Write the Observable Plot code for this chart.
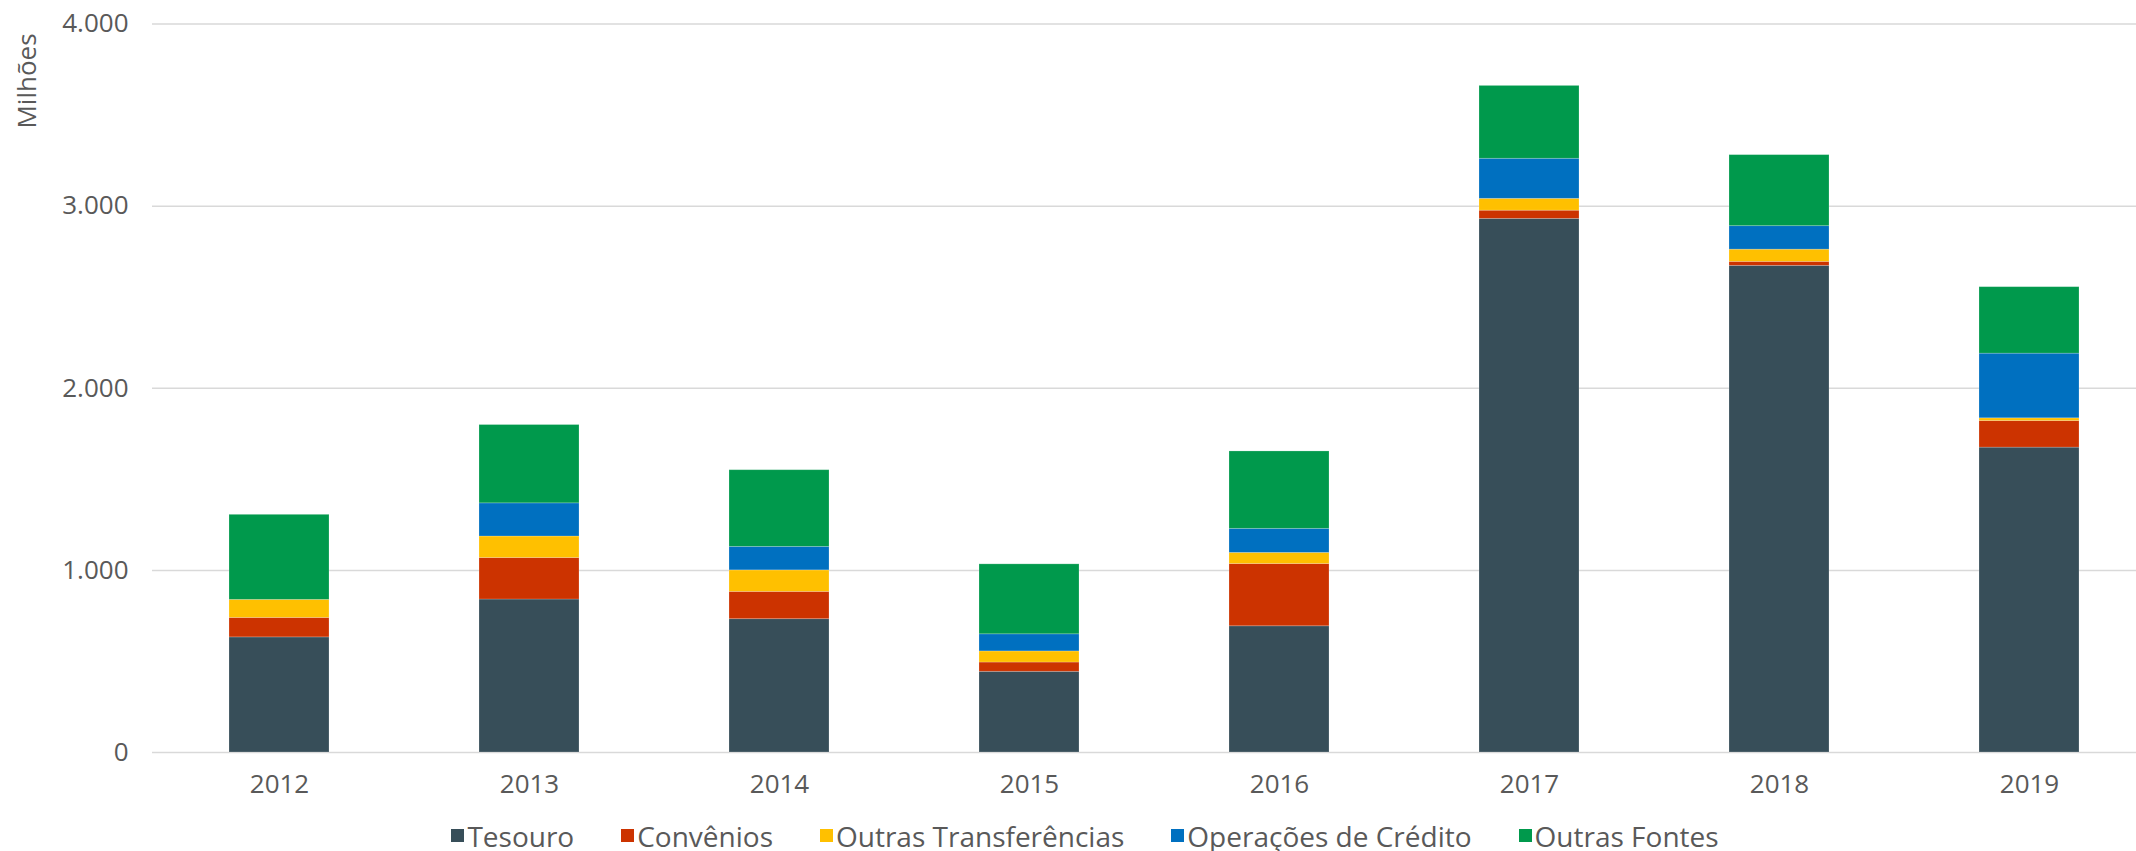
<!DOCTYPE html>
<html>
<head>
<meta charset="utf-8">
<script src="https://cdn.jsdelivr.net/npm/d3@7"></script>
<script src="https://cdn.jsdelivr.net/npm/@observablehq/plot@0.6"></script>
<style>
  html, body { margin: 0; padding: 0; background: #ffffff; }
  body { width: 2136px; height: 851px; position: relative; overflow: hidden; font-family: "Open Sans", "Lato", sans-serif; color: #595959; }
  #chart svg { display: block; }
  #ylabel { position: absolute; left: 26px; top: 81px; transform: translate(-50%, -50%) rotate(-90deg); font-size: 26px; color: #595959; white-space: nowrap; }
  #legend { position: absolute; left: 0; top: 800px; width: 2136px; height: 51px; padding-top: 20px; padding-left: 34px; box-sizing: border-box; display: flex; justify-content: center; align-items: center; gap: 47px; font-size: 28px; color: #595959; }
  #legend .item { display: flex; align-items: center; gap: 3px; white-space: nowrap; }
  #legend .sw { width: 13px; height: 13px; display: inline-block; }
</style>
</head>
<body>
<div id="chart"></div>
<div id="ylabel">Milhões</div>
<div id="legend"></div>
<script>
const years = ["2012", "2013", "2014", "2015", "2016", "2017", "2018", "2019"];
const seriesNames = ["Tesouro", "Convênios", "Outras Transferências", "Operações de Crédito", "Outras Fontes"];
const seriesColors = ["#374E59", "#CC3300", "#FFC000", "#0070C0", "#00994C"];

const tesouro = [632, 840, 732, 443, 693, 2930, 2672, 1674];
const convenios = [107, 228, 150, 51, 342, 45, 22, 146];
const outrasTransferencias = [99, 118, 118, 61, 61, 65, 67, 15];
const operacoesCredito = [0, 182, 129, 94, 132, 220, 129, 355];
const outrasFontes = [467, 430, 421, 384, 425, 400, 390, 365];

const yTicks = [0, 1000, 2000, 3000, 4000];
const yLabel = "Milhões";

const seriesValues = [tesouro, convenios, outrasTransferencias, operacoesCredito, outrasFontes];
const data = [];
seriesNames.forEach((name, si) => {
  years.forEach((yr, yi) => {
    data.push({ year: yr, series: name, value: seriesValues[si][yi] });
  });
});

const ptBR = d3.formatLocale({ decimal: ",", thousands: ".", grouping: [3], currency: ["R$", ""] });
const fmt = ptBR.format(",");

const W = 2136;
const marginLeft = 152;
// Excel category spacing: categories continue past the right edge slightly
const step = 250.6;
const xRange = [marginLeft, marginLeft + step * years.length];

const chart = Plot.plot({
  width: W,
  height: 800,
  marginLeft: marginLeft,
  marginRight: 0,
  marginTop: 23.5,
  marginBottom: 48,
  style: { fontFamily: "'Open Sans', Lato, sans-serif", fontSize: "26px", color: "#595959", background: "#ffffff", overflow: "hidden" },
  x: { domain: years, range: xRange, paddingInner: 0.6, paddingOuter: 0.3, align: 0.5, label: null },
  y: { domain: [0, 4000], label: null },
  color: { domain: seriesNames, range: seriesColors },
  marks: [
    Plot.ruleY(yTicks, { stroke: "#d9d9d9", strokeWidth: 1.5 }),
    Plot.barY(data, { x: "year", y: "value", fill: "series", order: seriesNames, stroke: "#ffffff", strokeOpacity: 0.25, strokeWidth: 0.8 }),
    Plot.axisY(yTicks, { tickSize: 0, tickPadding: 24, tickFormat: fmt, label: null, fill: "#595959", fontSize: 26 }),
    Plot.axisX({ tickSize: 0, tickPadding: 22, label: null, fill: "#595959", fontSize: 26 })
  ]
});
document.getElementById("chart").appendChild(chart);

document.getElementById("ylabel").textContent = yLabel;
const legend = document.getElementById("legend");
seriesNames.forEach((name, i) => {
  const item = document.createElement("div");
  item.className = "item";
  const sw = document.createElement("span");
  sw.className = "sw";
  sw.style.background = seriesColors[i];
  const lab = document.createElement("span");
  lab.textContent = name;
  item.appendChild(sw);
  item.appendChild(lab);
  legend.appendChild(item);
});
</script>
</body>
</html>
